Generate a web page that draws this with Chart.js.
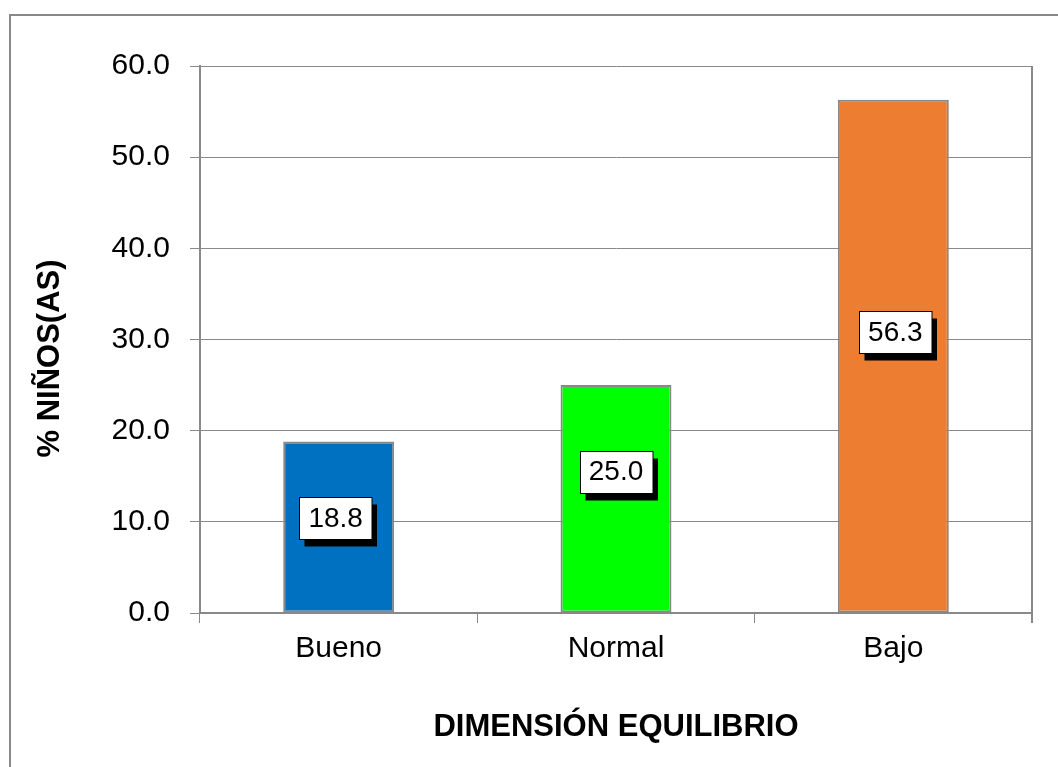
<!DOCTYPE html>
<html>
<head>
<meta charset="utf-8">
<script src="https://cdn.jsdelivr.net/npm/chart.js@4/dist/chart.umd.min.js"></script>
<style>
    html, body { margin: 0; padding: 0; background: #fff; }
    #wrap { width: 1058px; height: 767px; }
</style>
</head>
<body>
<div id="wrap"><canvas id="chart" width="1058" height="767"></canvas></div>
<script>
const categorias = ['Bueno', 'Normal', 'Bajo'];
const porcentajes = [18.8, 25.0, 56.3];
const coresBarras = ['#0070C0', '#00FF00', '#ED7D31'];
const tituloY = '% NIÑOS(AS)';
const tituloX = 'DIMENSIÓN EQUILIBRIO';

const fonte = "Arial, 'Liberation Sans', sans-serif";
const cinza = '#898989';

// moldura externa, linha da direita e titulo do eixo y
const molduraPlugin = {
    id: 'moldura',
    beforeDraw(chart) {
        const ctx = chart.ctx;
        ctx.save();
        ctx.strokeStyle = cinza;
        ctx.lineWidth = 2;
        ctx.strokeRect(10, 15, 1100, 800);
        ctx.restore();
    },
    afterDatasetsDraw(chart) {
        const { ctx, chartArea } = chart;
        ctx.save();
        ctx.strokeStyle = cinza;
        ctx.lineWidth = 2;
        ctx.beginPath();
        ctx.moveTo(chartArea.right, chartArea.top);
        ctx.lineTo(chartArea.right, chartArea.bottom + 10);
        ctx.stroke();

        ctx.translate(50, (chartArea.top + chartArea.bottom) / 2 + 19);
        ctx.rotate(-Math.PI / 2);
        ctx.font = 'bold 31px ' + fonte;
        ctx.fillStyle = '#000';
        ctx.textAlign = 'center';
        ctx.textBaseline = 'middle';
        ctx.fillText(tituloY, 0, 0);
        ctx.restore();
    }
};

// rotulos com caixa branca e sombra preta
const rotulosPlugin = {
    id: 'rotulos',
    afterDatasetsDraw(chart, args, opts) {
        const ctx = chart.ctx;
        const meta = chart.getDatasetMeta(0);
        const yScale = chart.scales.y;
        ctx.save();
        ctx.font = '28px ' + fonte;
        ctx.textAlign = 'center';
        ctx.textBaseline = 'middle';
        meta.data.forEach((bar, i) => {
            const txt = porcentajes[i].toFixed(1);
            const w = ctx.measureText(txt).width + 18;
            const h = 42;
            const cx = bar.x + opts.desvioX[i];
            const cy = yScale.getPixelForValue(opts.posicoes[i]);
            const x = Math.round(cx - w / 2) + 0.5;
            const y = Math.round(cy - h / 2) + 0.5;
            ctx.fillStyle = '#000';
            ctx.fillRect(x + 5, y + 7, w, h);
            ctx.fillStyle = '#fff';
            ctx.fillRect(x, y, w, h);
            ctx.strokeStyle = '#000';
            ctx.lineWidth = 1;
            ctx.strokeRect(x, y, w, h);
            ctx.fillStyle = '#000';
            ctx.fillText(txt, cx, cy + 1);
        });
        ctx.restore();
    }
};

new Chart(document.getElementById('chart'), {
    type: 'bar',
    data: {
        labels: categorias,
        datasets: [{
            data: porcentajes,
            backgroundColor: coresBarras,
            borderColor: cinza,
            borderWidth: 2,
            borderSkipped: false,
            categoryPercentage: 1,
            barPercentage: 0.4
        }]
    },
    options: {
        responsive: false,
        animation: false,
        devicePixelRatio: 1,
        layout: { padding: { top: 66, right: 26, left: 0, bottom: 0 } },
        plugins: {
            legend: { display: false },
            tooltip: { enabled: false },
            rotulos: { posicoes: [10.4, 15.5, 30.8], desvioX: [-3, 0, 2] }
        },
        scales: {
            x: {
                grid: {
                    offset: true,
                    drawOnChartArea: false,
                    drawTicks: true,
                    tickLength: 10,
                    color: cinza,
                    lineWidth: 1
                },
                border: { display: true, color: cinza, width: 2 },
                ticks: {
                    color: '#000',
                    padding: 8,
                    font: { family: fonte, size: 30 }
                },
                title: {
                    display: true,
                    text: tituloX,
                    color: '#000',
                    font: { family: fonte, size: 31, weight: 'bold' },
                    padding: { top: 0, bottom: 21 }
                },
                afterFit(scale) { scale.height = 154; }
            },
            y: {
                min: 0,
                max: 60,
                grid: {
                    color: cinza,
                    lineWidth: 1,
                    drawTicks: true,
                    tickLength: 10
                },
                border: { display: true, color: cinza, width: 2 },
                ticks: {
                    stepSize: 10,
                    color: '#000',
                    padding: 20,
                    font: { family: fonte, size: 30 },
                    callback: v => Number(v).toFixed(1)
                },
                afterFit(scale) { scale.width = 200; }
            }
        }
    },
    plugins: [molduraPlugin, rotulosPlugin]
});
</script>
</body>
</html>
